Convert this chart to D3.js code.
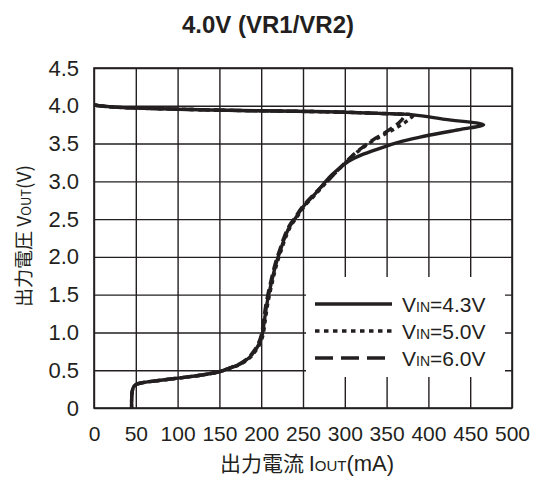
<!DOCTYPE html>
<html><head><meta charset="utf-8">
<script src="https://cdn.jsdelivr.net/npm/d3@7"></script>
<style>
body{margin:0;background:#fff;}
svg{display:block;font-family:"Liberation Sans",Arial,Helvetica,sans-serif;}
</style></head><body>
<svg id="c" width="534" height="477"></svg>
<script>
const title = "4.0V (VR1/VR2)";
const xTicks = [0,50,100,150,200,250,300,350,400,450,500];
const yTicks = [0,0.5,1.0,1.5,2.0,2.5,3.0,3.5,4.0,4.5];
const legendLabels = ["4.3V","5.0V","6.0V"];

// [Iout (mA), Vout (V)] in drawing order
const vin43 = [[0,4.01],[20,3.985],[50,3.97],[100,3.955],[160,3.94],[220,3.93],[280,3.92],[340,3.90],[382,3.88],[420,3.82],[466,3.75],[440,3.69],[415,3.64],[390,3.585],[365,3.52],[340,3.43],[320,3.35],[305,3.27],[293,3.17],[284,3.08],[278,3.01],[265,2.84],[250,2.66],[242,2.53],[234,2.40],[228,2.25],[224,2.12],[218,1.92],[212,1.65],[207,1.39],[204,1.17],[201,0.96],[197,0.84],[192,0.75],[186,0.67],[176,0.59],[163,0.53],[150,0.48],[125,0.43],[100,0.395],[75,0.36],[58,0.335],[50,0.31],[47,0.27],[45.5,0.2],[45,0.1],[45,0]];
const vin50 = [[0,4.01],[20,3.985],[50,3.97],[100,3.955],[160,3.94],[220,3.93],[280,3.92],[340,3.90],[366,3.89],[382,3.875],[378,3.83],[372,3.78],[362,3.71],[350,3.635],[338,3.565],[326,3.48],[315,3.39],[305,3.29],[294,3.17],[285,3.07],[279,3.0],[266,2.84],[251,2.66],[243,2.53],[235,2.40],[229,2.25],[225,2.12],[219,1.92],[213,1.65],[208,1.39],[205,1.17],[202,0.96],[198,0.84],[193,0.75],[187,0.67],[177,0.59],[164,0.53],[150,0.48],[125,0.43],[100,0.395],[75,0.36],[58,0.335],[50,0.31],[47,0.27],[45.5,0.2],[45,0.1],[45,0]];
const vin60 = [[0,4.01],[20,3.985],[50,3.97],[100,3.955],[160,3.94],[220,3.93],[280,3.92],[340,3.90],[360,3.89],[372,3.88],[370,3.84],[366,3.79],[358,3.72],[346,3.63],[334,3.55],[320,3.44],[308,3.33],[297,3.21],[287,3.09],[279,3.0],[264,2.84],[249,2.66],[241,2.53],[233,2.40],[227,2.25],[223,2.12],[217,1.92],[211,1.65],[206,1.39],[203,1.17],[200,0.96],[196,0.84],[191,0.75],[185,0.67],[175,0.59],[162,0.53],[150,0.48],[125,0.43],[100,0.395],[75,0.36],[58,0.335],[50,0.31],[47,0.27],[45.5,0.2],[45,0.1],[45,0]];

const ink = "#231f20";
const svg = d3.select("#c");
const L = 94, R = 512, T = 68, B = 408;
const x = d3.scaleLinear().domain([0,500]).range([L,R]);
const y = d3.scaleLinear().domain([0,4.5]).range([B,T]);

// title
svg.append("text").attr("x",268).attr("y",33).attr("text-anchor","middle")
  .attr("font-weight","bold").attr("font-size",24).attr("fill",ink).text(title);

// grid + axes
const gx = svg.append("g").attr("transform",`translate(0,${B})`)
  .call(d3.axisBottom(x).tickValues(xTicks).tickSize(-(B-T)).tickSizeOuter(0).tickPadding(18).tickFormat(d3.format("d")));
const gy = svg.append("g").attr("transform",`translate(${L},0)`)
  .call(d3.axisLeft(y).tickValues(yTicks).tickSize(-(R-L)).tickSizeOuter(0).tickPadding(15).tickFormat(d=>d===0?"0":d3.format(".1f")(d)));
[gx,gy].forEach(g=>{
  g.select(".domain").remove();
  g.selectAll(".tick line").attr("stroke",ink).attr("stroke-width",1.4);
  g.selectAll(".tick text").attr("fill",ink).attr("font-size",21).attr("font-family","'Liberation Sans',Arial,sans-serif");
});
gy.selectAll(".tick text").attr("font-size",22);
svg.append("rect").attr("x",L).attr("y",T).attr("width",R-L).attr("height",B-T)
  .attr("fill","none").attr("stroke",ink).attr("stroke-width",1.6);

// legend background
svg.append("rect").attr("x",306).attr("y",277).attr("width",199).attr("height",100).attr("fill","#fff");

// curves
const line = d3.line().x(d=>x(d[0])).y(d=>y(d[1])).curve(d3.curveCatmullRom.alpha(0.5));
const series = [
  {data:vin43, dash:null, lgDash:null},
  {data:vin50, dash:"4,4", lgDash:"4.5,4.5"},
  {data:vin60, dash:"10,5", lgDash:"18,8"}
];
series.slice().reverse().forEach(s=>{
  svg.append("path").attr("d",line(s.data)).attr("fill","none").attr("stroke",ink)
    .attr("stroke-width",3.4).attr("stroke-linejoin","round")
    .attr("stroke-dasharray",s.dash);
});

// legend
series.forEach((s,i)=>{
  const ly = 304 + i*27;
  svg.append("line").attr("x1",315).attr("x2",392).attr("y1",ly).attr("y2",ly)
    .attr("stroke",ink).attr("stroke-width",3.6).attr("stroke-dasharray",s.lgDash);
  const t = svg.append("text").attr("x",402).attr("y",ly+8).attr("font-size",21).attr("fill",ink);
  t.append("tspan").text("V");
  t.append("tspan").attr("font-size",14).text("IN");
  t.append("tspan").text("="+legendLabels[i]);
});

// axis titles
const xt = svg.append("text").attr("x",307).attr("y",470.5).attr("text-anchor","middle")
  .attr("font-size",21).attr("fill",ink).attr("font-family","'Noto Sans CJK JP','Liberation Sans',sans-serif");
xt.append("tspan").text("出力電流 ");
xt.append("tspan").attr("font-family","'Liberation Sans',Arial,sans-serif").attr("font-size",22).text("I");
xt.append("tspan").attr("font-family","'Liberation Sans',Arial,sans-serif").attr("font-size",15).text("OUT");
xt.append("tspan").attr("font-family","'Liberation Sans',Arial,sans-serif").attr("font-size",22).text("(mA)");

const yt = svg.append("text").attr("transform","translate(31,236) rotate(-90)").attr("text-anchor","middle")
  .attr("font-size",19).attr("fill",ink).attr("font-family","'Noto Sans CJK JP','Liberation Sans',sans-serif");
yt.append("tspan").text("出力電圧 V");
yt.append("tspan").attr("font-size",13).text("OUT");
yt.append("tspan").text("(V)");
</script>
</body></html>
